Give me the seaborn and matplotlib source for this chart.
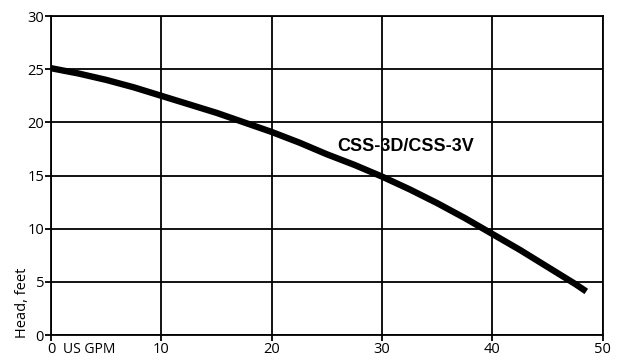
import matplotlib
matplotlib.use("Agg")
import matplotlib.pyplot as plt
import seaborn as sns
import pandas as pd

flow_gpm = [0, 2.5, 5, 7.5, 10, 12.5, 15, 17.5, 20, 22.5, 25, 27.5, 30, 32.5, 35,
            37.5, 40, 42.5, 45, 47.5, 48.5]
head_ft = [25.1, 24.6, 24.0, 23.3, 22.5, 21.7, 20.9, 20.0, 19.1, 18.1, 17.0, 16.0,
           14.9, 13.7, 12.4, 11.0, 9.5, 8.0, 6.4, 4.8, 4.1]
x_ticks = [0, 10, 20, 30, 40, 50]
y_ticks = [0, 5, 10, 15, 20, 25, 30]
series_label = "CSS-3D/CSS-3V"

sns.set_theme(style="white")
plt.rcParams['font.family'] = ['Open Sans', 'DejaVu Sans']
plt.rcParams['text.color'] = 'black'

df = pd.DataFrame({"flow": flow_gpm, "head": head_ft})

fig = plt.figure(figsize=(6.26, 3.58), dpi=100)
ax = fig.add_axes([0.0815, 0.0642, 0.8815, 0.8908])

sns.lineplot(data=df, x="flow", y="head", ax=ax, color="black", linewidth=4.6,
             solid_capstyle="butt", solid_joinstyle="round", zorder=3)

ax.set_xlim(0, 50)
ax.set_ylim(0, 30)
ax.set_xticks(x_ticks)
ax.set_yticks(y_ticks)
ax.grid(True, color="black", linewidth=1.3)
for s in ax.spines.values():
    s.set_color("black")
    s.set_linewidth(1.3)
ax.tick_params(axis="both", which="both", direction="out", length=4, width=1.3,
               color="black", labelcolor="black", labelsize=10.5, pad=1,
               bottom=True, left=True)
ax.set_xlabel("")
ax.set_ylabel("")

ax.text(32.1, 17.7, series_label, fontsize=13, fontweight="bold", color="black",
        ha="center", va="center", family=['Liberation Sans', 'DejaVu Sans'])

fig.text(0.101, 0.003, "US GPM", fontsize=10, color="black", ha="left", va="bottom")
fig.text(0.024, 0.155, "Head, feet", fontsize=10.5, color="black", rotation=90,
         ha="left", va="center")

fig.savefig("out.png", dpi=100)
